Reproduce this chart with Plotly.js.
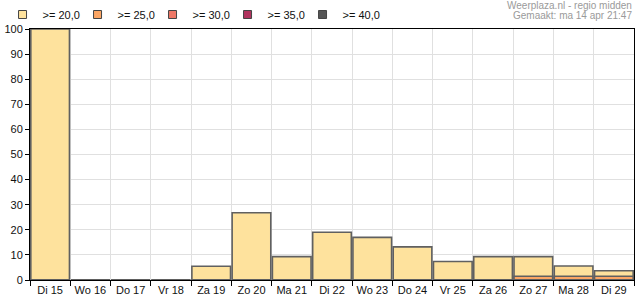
<!DOCTYPE html>
<html>
<head>
<meta charset="utf-8">
<script src="https://cdn.plot.ly/plotly-3.0.1.min.js"></script>
<style>html,body{margin:0;padding:0;background:#fff;}#chart{width:635px;height:300px;}</style>
</head>
<body>
<div id="chart"></div>
<script>
const days = ["Di 15","Wo 16","Do 17","Vr 18","Za 19","Zo 20","Ma 21","Di 22","Wo 23","Do 24","Vr 25","Za 26","Zo 27","Ma 28","Di 29"];
const seriesNames = [">= 20,0", ">= 25,0", ">= 30,0", ">= 35,0", ">= 40,0"];
const seriesColors = ["#FEE29D", "#FCA664", "#EE7766", "#B0335E", "#555555"];
const ge20 = [100, 0, 0, 0, 5.5, 26.8, 9.3, 19.0, 17.0, 13.2, 7.4, 9.3, 9.3, 5.6, 3.7];
const ge25 = [0, 0, 0, 0, 0, 0, 0, 0, 0, 0, 0, 0, 1.5, 1.5, 1.5];
const ge30 = [0, 0, 0, 0, 0, 0, 0, 0, 0, 0, 0, 0, 0, 0, 0];
const ge35 = [0, 0, 0, 0, 0, 0, 0, 0, 0, 0, 0, 0, 0, 0, 0];
const ge40 = [0, 0, 0, 0, 0, 0, 0, 0, 0, 0, 0, 0, 0, 0, 0];
const seriesValues = [ge20, ge25, ge30, ge35, ge40];
const titleLines = ["Weerplaza.nl - regio midden", "Gemaakt: ma 14 apr 21:47"];

const barTraces = seriesValues.map((vals, i) => ({
  type: "bar",
  name: seriesNames[i],
  x: days,
  y: vals,
  width: 0.96,
  marker: {color: seriesColors[i], line: {color: "#606060", width: 1.6}},
  showlegend: false,
  legendgroup: "g" + i,
  hoverinfo: "skip"
}));
// legend keys (small squares like the original), no data points drawn
const legendTraces = seriesNames.map((nm, i) => ({
  type: "scatter", mode: "markers", name: nm,
  x: [null], y: [null],
  marker: {symbol: "square", size: 8, color: seriesColors[i], line: {color: "#444", width: 1}},
  legendgroup: "g" + i, showlegend: true, hoverinfo: "skip"
}));
// empty spacer entry so the last legend label is not clipped
legendTraces.push({
  type: "scatter", mode: "markers", name: " ", x: [null], y: [null],
  marker: {size: 1, color: "rgba(0,0,0,0)"}, showlegend: true, hoverinfo: "skip"
});

const layout = {
  width: 635, height: 300,
  margin: {l: 30, r: 1, t: 20, b: 20},
  paper_bgcolor: "#fff", plot_bgcolor: "#fff",
  font: {family: "Liberation Sans, Arial, sans-serif", size: 11, color: "#111"},
  barmode: "overlay",
  bargap: 0,
  showlegend: true,
  legend: {
    orientation: "h", xref: "container", yref: "container",
    x: 0.004, y: 1.0, xanchor: "left", yanchor: "top",
    entrywidth: 30, entrywidthmode: "pixels", itemwidth: 30,
    font: {size: 11, color: "#111"}, bgcolor: "rgba(0,0,0,0)",
    traceorder: "normal"
  },
  xaxis: {
    type: "category", tickson: "boundaries", tickangle: 0,
    showline: true, linecolor: "#000", linewidth: 1, mirror: true,
    ticks: "outside", ticklen: 5, tickcolor: "#000",
    showgrid: true, gridcolor: "#e0e0e0", gridwidth: 1,
    fixedrange: true
  },
  yaxis: {
    range: [0, 100], dtick: 10, tick0: 0,
    showline: true, linecolor: "#000", linewidth: 1, mirror: true,
    ticks: "outside", ticklen: 4, tickcolor: "#000",
    showgrid: true, gridcolor: "#e0e0e0", gridwidth: 1,
    zeroline: false, fixedrange: true
  },
  annotations: titleLines.map((t, i) => ({
    xref: "paper", yref: "paper", x: 1, y: 1, xanchor: "right", yanchor: "middle",
    text: t, align: "right", showarrow: false,
    font: {size: 10, color: "#9a9a9a"}, xshift: 0, yshift: 24 - i * 10
  }))
};

Plotly.newPlot("chart", barTraces.concat(legendTraces), layout, {displayModeBar: false, staticPlot: true});
</script>
</body>
</html>
